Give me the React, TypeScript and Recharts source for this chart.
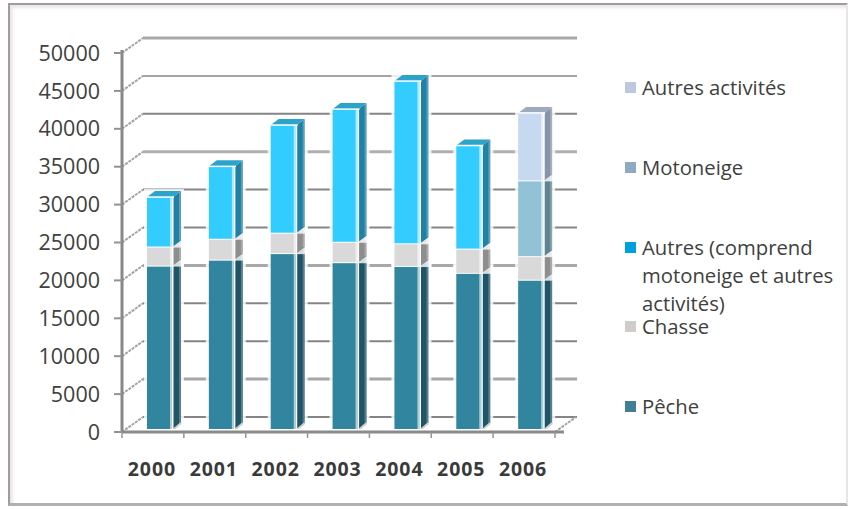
import React from 'react';
import { BarChart, Bar, XAxis, YAxis, CartesianGrid, Legend } from 'recharts';

const years = ['2000', '2001', '2002', '2003', '2004', '2005', '2006'];
const peche = [21560, 22350, 23200, 22000, 21500, 20600, 19700];
const chasse = [2510, 2750, 2700, 2700, 3000, 3200, 3100];
const autres = [6530, 9550, 14200, 17500, 21400, 13600, null];
const motoneige = [null, null, null, null, null, null, 10000];
const activites = [null, null, null, null, null, null, 8900];
const yTicks = [0, 5000, 10000, 15000, 20000, 25000, 30000, 35000, 40000, 45000, 50000];

const data = years.map((year, i) => ({
  year,
  peche: peche[i],
  chasse: chasse[i],
  autres: autres[i],
  motoneige: motoneige[i],
  activites: activites[i],
}));

const FONT = '"Open Sans", sans-serif';
const DEPTH_X = 8;
const DEPTH_Y = 6;
const WALL_X = 21;
const WALL_Y = 15;
const WALL_END = 577;

// the picture was resampled, so the grid lines come out alternately thin/dark and thick/pale
const gridStyles = [
  { stroke: '#858585', width: 2 },
  { stroke: '#a6a6a6', width: 3 },
  { stroke: '#858585', width: 2 },
  { stroke: '#858585', width: 2 },
  { stroke: '#a8a8a8', width: 3 },
  { stroke: '#858585', width: 2 },
  { stroke: '#868686', width: 2 },
  { stroke: '#b0b0b0', width: 3 },
  { stroke: '#858585', width: 2 },
  { stroke: '#a4a4a4', width: 2 },
  { stroke: '#a8a8a8', width: 3 },
];

const GridLine = (props: any) => {
  const { x1, y1 } = props;
  // the grid also hands over the top edge of the plot, which is no tick
  if (y1 < 52) return null;
  const value = Math.round(((432 - y1) / 379) * 10);
  const style = gridStyles[value] || gridStyles[0];
  return (
    <g>
      <line x1={x1} y1={y1} x2={x1 + WALL_X} y2={y1 - WALL_Y} stroke="#a3a3a3" strokeWidth={2} strokeDasharray="3 1" />
      <line x1={x1 + WALL_X} y1={y1 - WALL_Y} x2={WALL_END} y2={y1 - WALL_Y} stroke={style.stroke} strokeWidth={style.width} />
      {value === 0 && (
        <line x1={555} y1={y1} x2={555 + WALL_X} y2={y1 - WALL_Y} stroke="#a3a3a3" strokeWidth={2} strokeDasharray="3 1" />
      )}
    </g>
  );
};

const Block = (props: any) => {
  const { x, y, width, height, fill, side, top, base } = props;
  if (!height || height <= 0) return null;
  const r = x + width;
  const b = y + height;
  return (
    <g>
      <rect x={x - 3} y={y - DEPTH_Y - 2} width={width + DEPTH_X + 6} height={height + DEPTH_Y + 3} fill="#ffffff" fillOpacity={0.8} />
      <polygon
        points={`${r},${y} ${r + DEPTH_X},${y - DEPTH_Y} ${r + DEPTH_X},${b - DEPTH_Y} ${r},${b}`}
        fill={side}
      />
      <line x1={r + DEPTH_X - 1} y1={y - DEPTH_Y} x2={r + DEPTH_X - 1} y2={b - DEPTH_Y} stroke="#ffffff" strokeOpacity={0.25} strokeWidth={2} />
      <polygon
        points={`${x},${y} ${x + DEPTH_X},${y - DEPTH_Y} ${r + DEPTH_X},${y - DEPTH_Y} ${r},${y}`}
        fill={top}
      />
      <rect x={x} y={y} width={width} height={height} fill={fill} />
      <rect x={r - 3} y={y} width={2} height={height} fill="#ffffff" fillOpacity={0.6} />
      <rect x={r - 1} y={y} width={1.5} height={height} fill="#ffffff" />
      <line x1={x} y1={y} x2={r + 1} y2={y} stroke="#ffffff" strokeWidth={1.5} />
      {base && (
        <g>
          <rect x={x - 2} y={b} width={width + 2} height={2} fill="#b4c0c3" />
          <line x1={r} y1={b + 1} x2={r + DEPTH_X} y2={b - DEPTH_Y} stroke="#cfcfcf" strokeWidth={2} />
        </g>
      )}
    </g>
  );
};

// tick mark sits on the left edge of each band, the last band also closes the axis
const YearTick = (props: any) => {
  const { x, index, payload } = props;
  const band = 61.9;
  const left = x - band / 2;
  return (
    <g>
      <line x1={left} y1={432} x2={left} y2={438} stroke="#a09090" strokeWidth={1.5} />
      {index === years.length - 1 && (
        <line x1={left + band} y1={432} x2={left + band} y2={438} stroke="#a09090" strokeWidth={1.5} />
      )}
      <text x={x - 1} y={476} textAnchor="middle" fontFamily={FONT} fontWeight={700} fontSize={19.5} letterSpacing={0.9} fill="#3a3a3a">
        {payload.value}
      </text>
    </g>
  );
};

const legendColors: Record<string, string> = {
  peche: '#417f97',
  chasse: '#d2cbcb',
  autres: '#00a0e0',
  motoneige: '#8faac0',
  activites: '#bcc9df',
};

const ChartLegend = ({ payload }: any) => (
  <div style={{ fontFamily: FONT, fontSize: 20.3, lineHeight: '28px', color: '#404040', width: 220 }}>
    {[...(payload || [])].reverse().map((entry: any) => (
      <div key={entry.dataKey} style={{ position: 'relative', height: 79.8, paddingLeft: 17 }}>
        <span
          style={{
            position: 'absolute',
            left: 0,
            top: 9,
            width: 11,
            height: 11,
            background: legendColors[entry.dataKey],
          }}
        />
        {entry.value}
      </div>
    ))}
  </div>
);

const App = () => (
  <div
    style={{
      position: 'absolute',
      left: 0,
      top: 0,
      width: 850,
      height: 509,
      background: '#ffffff',
      overflow: 'hidden',
    }}
  >
    <div
      style={{
        position: 'absolute',
        left: 8,
        top: 3,
        width: 840,
        height: 503,
        boxSizing: 'border-box',
        borderLeft: '2px solid #a39a9a',
        borderTop: '2px solid #a39a9a',
        borderBottom: '3px solid #b0b0b0',
        borderRight: '2px solid #e6e6e6',
        boxShadow: 'inset 3px 3px 3px #e8e8e8',
      }}
    />
    <BarChart
      width={850}
      height={509}
      data={data}
      barSize={26}
      margin={{ top: 50, right: 286, bottom: 27, left: 0 }}
      style={{ position: 'absolute', left: 0, top: 0 }}
    >
      <CartesianGrid yAxisId="front" xAxisId="front" vertical={false} horizontal={GridLine} />
      <XAxis
        xAxisId="front"
        dataKey="year"
        height={50}
        padding={{ left: 0, right: 9 }}
        axisLine={{ stroke: '#8a8a8a', strokeWidth: 3 }}
        tickLine={false}
        interval={0}
        tick={YearTick}
      />
      <XAxis xAxisId="bars" dataKey="year" hide height={0} padding={{ left: 7, right: 2 }} />
      <YAxis
        yAxisId="front"
        width={122}
        domain={[0, 50000]}
        allowDataOverflow
        ticks={yTicks}
        interval={0}
        padding={{ top: 3, bottom: 0 }}
        axisLine={{ stroke: '#888888', strokeWidth: 3 }}
        tickLine={{ stroke: '#9a8f8f', strokeWidth: 2 }}
        tickSize={8}
        tickMargin={14}
        tick={{ fontFamily: FONT, fontSize: 21.5, fill: '#404040' }}
      />
      <YAxis yAxisId="bars" hide width={0} domain={[0, 50000]} allowDataOverflow padding={{ top: 0, bottom: 3 }} />
      <Legend
        layout="vertical"
        align="center"
        verticalAlign="middle"
        itemSorter={null}
        wrapperStyle={{ left: 625, top: 73, width: 220 }}
        content={ChartLegend}
      />
      <Bar
        xAxisId="bars"
        yAxisId="bars"
        dataKey="peche"
        name="Pêche"
        stackId="a"
        fill="#31859f"
        isAnimationActive={false}
        shape={(p: any) => <Block {...p} side="#1f5567" top="#1f5567" base />}
      />
      <Bar
        xAxisId="bars"
        yAxisId="bars"
        dataKey="chasse"
        name="Chasse"
        stackId="a"
        fill="#d9d9d9"
        isAnimationActive={false}
        shape={(p: any) => <Block {...p} side="#8e8e8e" top="#8e8e8e" />}
      />
      <Bar
        xAxisId="bars"
        yAxisId="bars"
        dataKey="autres"
        name="Autres (comprend motoneige et autres activités)"
        stackId="a"
        fill="#33ccff"
        isAnimationActive={false}
        shape={(p: any) => <Block {...p} side="#2080a6" top="#2ca3c8" />}
      />
      <Bar
        xAxisId="bars"
        yAxisId="bars"
        dataKey="motoneige"
        name="Motoneige"
        stackId="a"
        fill="#92c2d5"
        isAnimationActive={false}
        shape={(p: any) => <Block {...p} side="#5f8490" top="#5f8490" />}
      />
      <Bar
        xAxisId="bars"
        yAxisId="bars"
        dataKey="activites"
        name="Autres activités"
        stackId="a"
        fill="#c6d9f1"
        isAnimationActive={false}
        shape={(p: any) => <Block {...p} side="#8794a8" top="#9dabbf" />}
      />
    </BarChart>
  </div>
);

export default App;
